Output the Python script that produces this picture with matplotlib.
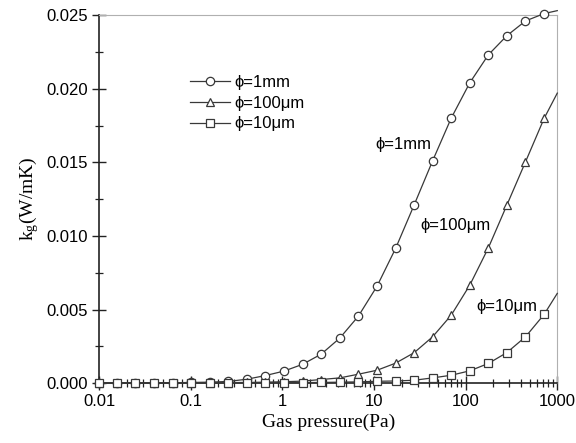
import matplotlib
matplotlib.use("Agg")
import matplotlib.pyplot as plt
from matplotlib.ticker import MultipleLocator, FixedLocator, FixedFormatter, LogLocator, NullFormatter

# gas pressure (Pa) of the plotted points, the last entry (1000 Pa) is line-only
pressure = [0.01, 0.0156, 0.0249, 0.0397, 0.0634, 0.101, 0.161, 0.257, 0.410,
            0.654, 1.04, 1.66, 2.65, 4.23, 6.75, 10.8, 17.2, 27.4, 43.6, 69.6,
            111, 177, 282, 450, 718, 1000]

# gas thermal conductivity k_g (W/mK)
kg_1mm = [0.00001, 0.00001, 0.00002, 0.00002, 0.00003, 0.00005, 0.00007,
          0.00012, 0.00027, 0.00052, 0.00082, 0.00128, 0.00197, 0.00306,
          0.00455, 0.00659, 0.00915, 0.0121, 0.0151, 0.0180, 0.0204, 0.0223,
          0.0236, 0.0246, 0.0251, 0.0253]
kg_100um = [0.00001, 0.00001, 0.00001, 0.00001, 0.00002, 0.00002, 0.00003,
            0.00004, 0.00005, 0.00007, 0.0001, 0.00014, 0.00025, 0.00036,
            0.00061, 0.00088, 0.00136, 0.00207, 0.00315, 0.00462, 0.00666,
            0.00919, 0.0121, 0.01503, 0.01798, 0.0197]
kg_10um = [0.00001, 0.00001, 0.00001, 0.00001, 0.00001, 0.00001, 0.00001,
           0.00002, 0.00002, 0.00002, 0.00003, 0.00004, 0.00005, 0.00007,
           0.00009, 0.00013, 0.00015, 0.0002, 0.00036, 0.00054, 0.00084,
           0.00134, 0.00208, 0.00315, 0.00467, 0.0061]

series = [
    (kg_1mm, "o", "ϕ=1mm"),
    (kg_100um, "^", "ϕ=100μm"),
    (kg_10um, "s", "ϕ=10μm"),
]

# in-plot curve labels: (text, right edge pressure, k_g)
curve_labels = [
    ("ϕ=1mm", 42, 0.0162),
    ("ϕ=100μm", 187, 0.0107),
    ("ϕ=10μm", 612, 0.0052),
]

xticks = [0.01, 0.1, 1, 10, 100, 1000]
xticklabels = ["0.01", "0.1", "1", "10", "100", "1000"]

SANS = ["Liberation Sans", "DejaVu Sans"]
SERIF = ["Liberation Serif", "DejaVu Serif"]
plt.rcParams["font.family"] = SANS
plt.rcParams["mathtext.fontset"] = "custom"
plt.rcParams["mathtext.rm"] = "Liberation Serif"
plt.rcParams["mathtext.it"] = "Liberation Serif"

LINE = "#383838"

fig = plt.figure(figsize=(5.76, 4.43), dpi=100)
ax = fig.add_axes([0.172, 0.135, 0.7955, 0.831])

n_mark = len(pressure) - 1
for vals, mk, lab in series:
    ax.plot(pressure, vals, color=LINE, lw=0.9, marker=mk, ms=6.0 if mk != "s" else 5.4,
            mfc="white", mec=LINE, mew=0.9, markevery=list(range(n_mark)),
            label=lab, clip_on=False, zorder=3)

ax.set_xscale("log")
ax.set_xlim(0.01, 1000)
ax.set_ylim(0.0, 0.025)

ax.xaxis.set_major_locator(FixedLocator(xticks))
ax.xaxis.set_major_formatter(FixedFormatter(xticklabels))
ax.xaxis.set_minor_locator(LogLocator(base=10, subs=range(2, 10), numticks=20))
ax.xaxis.set_minor_formatter(NullFormatter())
ax.yaxis.set_major_locator(MultipleLocator(0.005))
ax.yaxis.set_minor_locator(MultipleLocator(0.0025))
ax.yaxis.set_major_formatter(plt.FuncFormatter(lambda v, p: f"{v:.3f}"))

ax.tick_params(which="major", direction="inout", length=10, width=1.0,
               labelsize=12, pad=3, color="#222222", top=False, right=False)
ax.tick_params(which="minor", direction="inout", length=6, width=0.9,
               color="#222222", top=False, right=False)

for side in ("left", "bottom"):
    ax.spines[side].set_color("#222222")
    ax.spines[side].set_linewidth(1.2)
for side in ("top", "right"):
    ax.spines[side].set_color("#b0b0b0")
    ax.spines[side].set_linewidth(0.8)

ax.set_xlabel("Gas pressure(Pa)", family=SERIF, fontsize=14, labelpad=3)
ax.set_ylabel(r"k$_{\mathrm{g}}$(W/mK)", family=SERIF, fontsize=14, labelpad=4)

ax.legend(loc="upper left", bbox_to_anchor=(0.183, 0.856), frameon=False,
          fontsize=12, handlelength=2.4, handletextpad=0.3,
          labelspacing=0.35, borderaxespad=0)

for txt, px, kv in curve_labels:
    ax.text(px, kv, txt, fontsize=12, ha="right", va="center")

fig.savefig("out.png", dpi=100, facecolor="white")
